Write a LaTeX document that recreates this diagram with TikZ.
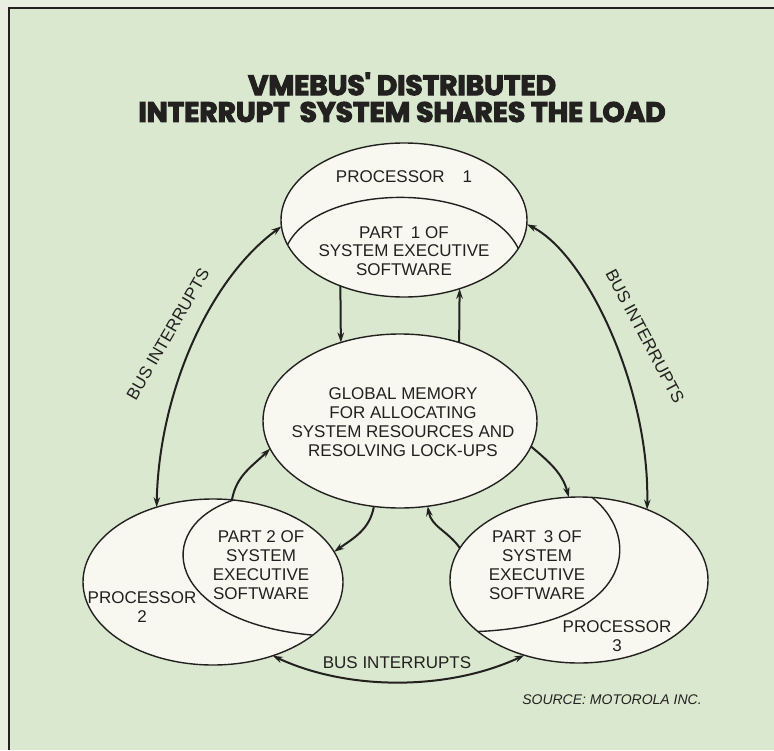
\documentclass[tikz,border=0pt]{standalone}
\usepackage{fontspec}
\setmainfont{Liberation Sans}
\newfontfamily\titlefont{Poppins}[BoldFeatures={FakeBold=4}]
\usetikzlibrary{shapes.geometric,arrows.meta}
\definecolor{bg}{HTML}{D9E8CF}
\definecolor{outerc}{HTML}{E8EFE1}
\definecolor{fillc}{HTML}{F8F8F1}
\definecolor{ink}{HTML}{232120}
\tikzset{
  proc/.style={ellipse, draw=ink, fill=fillc, line width=1.4pt, inner sep=0pt, outer sep=0pt},
  txt/.style={font=\fontsize{17}{18.8}\selectfont, align=center, text=ink, inner sep=0pt},
  ttl/.style={font=\titlefont\bfseries\fontsize{28}{32}\selectfont, text=ink, inner sep=0pt},
  conn/.style={draw=ink, line width=2pt, -{Stealth[length=10pt,width=6.5pt]}},
  dconn/.style={draw=ink, line width=2pt, {Stealth[length=10pt,width=6.5pt]}-{Stealth[length=10pt,width=6.5pt]}},
  divider/.style={draw=ink, line width=1.4pt}
}
\begin{document}
\begin{tikzpicture}[x=1pt,y=-1pt]
\useasboundingbox (0,0) rectangle (774,750);
\fill[outerc] (0,0) rectangle (774,750);
\fill[bg] (9,8) rectangle (774,750);
\draw[ink, line width=1.8pt] (9,750) -- (9,8) -- (774,8);

% title
\node[ttl] (T1) at (402,84) {VMEBUS' DISTRIBUTED};
\node[ttl] (T2) at (402,112) {INTERRUPT\hspace{10pt}SYSTEM SHARES THE LOAD};

% ellipses
\node[proc, minimum width=246, minimum height=154] (P1) at (404,220) {};
\node[proc, minimum width=274, minimum height=174] (GM) at (400,421) {};
\node[proc, minimum width=260, minimum height=166] (P2) at (213,582) {};
\node[proc, minimum width=258, minimum height=166] (P3) at (579,580) {};

% dividers
\draw[divider] (P1.-168.3) .. controls (320,181) and (485,181) .. (P1.-14.6);
\draw[divider] (P2.76.1) .. controls (150,528) and (166,622) .. (P2.-28.2);
\draw[divider] (P3.81) .. controls (645,540) and (630,625) .. (P3.-153.4);

% texts
\node[txt] (L1) at (404,177) {PROCESSOR\hspace{18pt}1};
\node[txt] (S1) at (404,251) {PART\hspace{8pt}1 OF\\SYSTEM EXECUTIVE\\SOFTWARE};
\node[txt] (LG) at (403,422) {GLOBAL MEMORY\\FOR ALLOCATING\\SYSTEM RESOURCES AND\\RESOLVING LOCK-UPS};
\node[txt] (S2) at (261,565) {PART 2 OF\\SYSTEM\\EXECUTIVE\\SOFTWARE};
\node[txt] (L2) at (142,607) {PROCESSOR\\2};
\node[txt] (S3) at (537,565) {PART\hspace{8pt}3 OF\\SYSTEM\\EXECUTIVE\\SOFTWARE};
\node[txt] (L3) at (617,636) {PROCESSOR\\3};

% connectors between processors and global memory
\draw[conn] (P1.-134.1) -- (GM.127.6);
\draw[conn] (GM.53.7) -- (P1.-51.9);
\draw[conn] (P2.77) to[out=80, in=-135] (GM.-168.9);
\draw[conn] (GM.-107.6) to[out=-100, in=35] (P2.14.4);
\draw[conn] (GM.-11.5) to[out=-40, in=105] (P3.97.4);
\draw[conn] (P3.165.2) to[out=125, in=-80] (GM.-72.4);

% bus interrupts
\draw[dconn] (P2.127.9) .. controls +(2,-110) and +(-75,55) .. (P1.183);
\draw[dconn] (P1.-2) .. controls +(60,30) and +(3,-120) .. (P3.46.6);
\draw[dconn] (P2.-51.8) to[out=-25, in=-155, looseness=0.85] (P3.-126.6);

\node[txt, rotate=60] (B1) at (168,334) {BUS INTERRUPTS};
\node[txt, rotate=-62] (B2) at (645,336) {BUS INTERRUPTS};
\node[txt] (B3) at (397,663) {BUS INTERRUPTS};

\node[txt, font=\fontsize{14}{16}\selectfont\itshape] (SRC) at (612,700) {SOURCE: MOTOROLA INC.};
\end{tikzpicture}
\end{document}
